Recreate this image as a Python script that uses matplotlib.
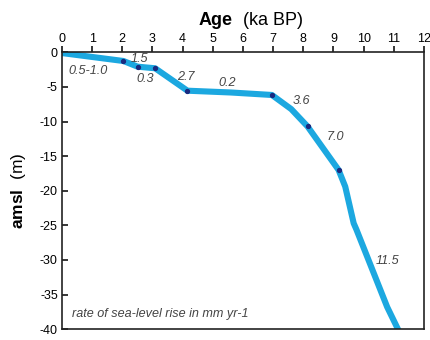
import matplotlib
matplotlib.use("Agg")
import matplotlib.pyplot as plt

plt.rcParams['font.family'] = ['Liberation Sans', 'DejaVu Sans']
plt.rcParams['mathtext.fontset'] = 'custom'
plt.rcParams['mathtext.rm'] = 'Liberation Sans'
plt.rcParams['mathtext.bf'] = 'Liberation Sans:bold'
plt.rcParams['axes.unicode_minus'] = False

# curve (age ka BP, elevation m amsl)
age = [0.0, 2.04, 2.51, 3.09, 4.16, 5.6, 6.96, 7.6, 8.14, 9.17, 9.39, 9.67, 9.76, 10.78, 11.17]
amsl = [-0.1, -1.25, -2.07, -2.3, -5.54, -5.8, -6.16, -8.2, -10.7, -17.0, -19.4, -24.7, -25.6, -36.8, -40.3]

# dated points
dot_age = [2.04, 2.51, 3.09, 4.16, 6.96, 8.14, 9.17]
dot_amsl = [-1.25, -2.07, -2.3, -5.54, -6.16, -10.7, -17.0]

# rate labels
rate_text = ["0.5-1.0", "1.5", "0.3", "2.7", "0.2", "3.6", "7.0", "11.5"]
rate_x = [0.87, 2.57, 2.76, 4.11, 5.47, 7.95, 9.06, 10.8]
rate_y = [-2.75, -1.0, -3.85, -3.5, -4.5, -7.1, -12.2, -30.2]

xticks = list(range(0, 13))
yticks = list(range(0, -41, -5))

fig = plt.figure(figsize=(4.3, 3.4), dpi=100)
ax = fig.add_axes([0.144, 0.032, 0.842, 0.814])

ax.plot(age, amsl, color='#1CA8E0', lw=4.4, solid_capstyle='butt', solid_joinstyle='round', zorder=2)
ax.plot(dot_age, dot_amsl, 'o', color='#1A2A80', ms=2.8, zorder=3)

for t, x, y in zip(rate_text, rate_x, rate_y):
    ax.text(x, y, t, style='italic', fontsize=9.1, color='#444444', ha='center', va='center')

ax.text(0.33, -37.8, "rate of sea-level rise in mm yr-1", style='italic', fontsize=9.1,
        color='#444444', ha='left', va='center')

ax.set_xlim(0, 12)
ax.set_ylim(-40, 0)
ax.set_xticks(xticks)
ax.set_yticks(yticks)
ax.xaxis.tick_top()
ax.tick_params(axis='x', direction='out', length=4, width=1.1, labelsize=9, pad=1.5, top=True, bottom=False)
ax.tick_params(axis='y', direction='in', length=4, width=1.1, labelsize=9, pad=3)
for s in ax.spines.values():
    s.set_linewidth(1.2)
    s.set_color('#222222')

ax.set_xlabel(r"$\mathbf{Age}$  (ka BP)", fontsize=13)
ax.xaxis.set_label_position('top')
ax.xaxis.set_label_coords(0.52, 1.10)
ax.set_ylabel(r"$\mathbf{amsl}$  (m)", fontsize=12.5)
ax.yaxis.set_label_coords(-0.095, 0.5)

fig.savefig("out.png", dpi=100)
